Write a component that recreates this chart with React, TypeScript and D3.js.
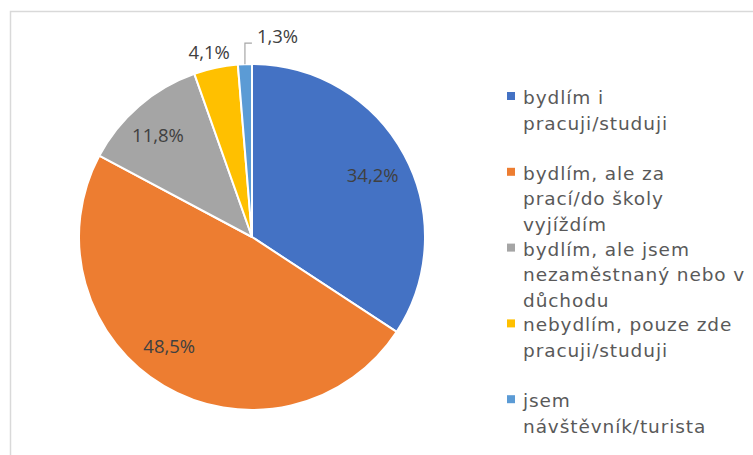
import * as d3 from 'd3'
import { useEffect, useRef } from 'react'

const categories = [
  ['bydlím i', 'pracuji/studuji'],
  ['bydlím, ale za', 'prací/do školy', 'vyjíždím'],
  ['bydlím, ale jsem', 'nezaměstnaný nebo v', 'důchodu'],
  ['nebydlím, pouze zde', 'pracuji/studuji'],
  ['jsem', 'návštěvník/turista'],
]
const values = [34.2, 48.5, 11.8, 4.1, 1.3]
const labels = ['34,2%', '48,5%', '11,8%', '4,1%', '1,3%']
const colors = ['#4472C4', '#ED7D31', '#A5A5A5', '#FFC000', '#5B9BD5']

export default function App() {
  const ref = useRef<HTMLDivElement | null>(null)

  useEffect(() => {
    const width = 753
    const height = 455
    const cx = 252
    const cy = 237
    const radius = 173

    const svg = d3
      .create('svg')
      .attr('width', width)
      .attr('height', height)
      .attr('viewBox', [0, 0, width, height])

    svg.append('rect').attr('width', width).attr('height', height).attr('fill', '#fff')

    // chart area border (runs off the right and bottom edge)
    svg
      .append('rect')
      .attr('x', 10.5)
      .attr('y', 11.5)
      .attr('width', width + 20)
      .attr('height', height + 20)
      .attr('fill', 'none')
      .attr('stroke', '#d9d9d9')
      .attr('stroke-width', 1.5)

    const pie = d3
      .pie<number>()
      .sort(null)
      .value((d) => d)
    const arcs = pie(values)
    const arc = d3.arc<d3.PieArcDatum<number>>().innerRadius(0).outerRadius(radius)
    const labelArc = d3
      .arc<d3.PieArcDatum<number>>()
      .innerRadius(radius * 0.78)
      .outerRadius(radius * 0.78)
    const outerArc = d3
      .arc<d3.PieArcDatum<number>>()
      .innerRadius(radius + 22)
      .outerRadius(radius + 22)

    const g = svg.append('g').attr('transform', `translate(${cx},${cy})`)

    g.selectAll('path')
      .data(arcs)
      .join('path')
      .attr('d', arc)
      .attr('fill', (_, i) => colors[i])
      .attr('stroke', '#fff')
      .attr('stroke-width', 2)
      .attr('stroke-linejoin', 'round')

    // small nudges so labels sit where the original "best fit" put them
    const nudges = [
      [2, 2],
      [-14, -8],
      [-6, 0],
      [-2, 5],
      [0, 0],
    ]

    const labelG = g
      .append('g')
      .attr('font-family', '"Open Sans", sans-serif')
      .attr('font-size', 18.5)
      .attr('fill', '#404040')
      .attr('text-anchor', 'middle')
      .attr('dominant-baseline', 'central')

    arcs.forEach((a, i) => {
      if (i < 3) {
        const [x, y] = labelArc.centroid(a)
        labelG
          .append('text')
          .attr('x', x + nudges[i][0])
          .attr('y', y + nudges[i][1])
          .text(labels[i])
      } else if (i === 3) {
        const [x, y] = outerArc.centroid(a)
        labelG
          .append('text')
          .attr('x', x + nudges[i][0])
          .attr('y', y + nudges[i][1])
          .text(labels[i])
      } else {
        // tiny slice: leader line going up, label to the right
        const mid = (a.startAngle + a.endAngle) / 2
        const x0 = Math.sin(mid) * radius
        const y0 = -Math.cos(mid) * radius
        const yTop = y0 - 21
        g.append('path')
          .attr('d', `M${x0},${y0}V${yTop}H${x0 + 7}`)
          .attr('fill', 'none')
          .attr('stroke', '#a6a6a6')
          .attr('stroke-width', 1.2)
        labelG
          .append('text')
          .attr('x', x0 + 12)
          .attr('y', yTop - 8)
          .attr('text-anchor', 'start')
          .text(labels[i])
      }
    })

    // legend
    const legendX = 507
    const legendTop = 92
    const itemStep = 75.8
    const lineStep = 25.5
    const legend = svg
      .append('g')
      .attr('font-family', '"DejaVu Sans", Verdana, sans-serif')
      .attr('font-size', 18.5)
      .attr('letter-spacing', 0.9)
      .attr('fill', '#595959')

    categories.forEach((lines, i) => {
      const y = legendTop + i * itemStep
      legend
        .append('rect')
        .attr('x', legendX)
        .attr('y', y)
        .attr('width', 8)
        .attr('height', 8)
        .attr('fill', colors[i])
      lines.forEach((line, j) => {
        legend
          .append('text')
          .attr('x', legendX + 16)
          .attr('y', y + 12 + j * lineStep)
          .text(line)
      })
    })

    if (ref.current) {
      ref.current.innerHTML = ''
      ref.current.appendChild(svg.node()!)
    }
  }, [])

  return <div ref={ref} style={{ position: 'fixed', left: 0, top: 0, lineHeight: 0 }} />
}
